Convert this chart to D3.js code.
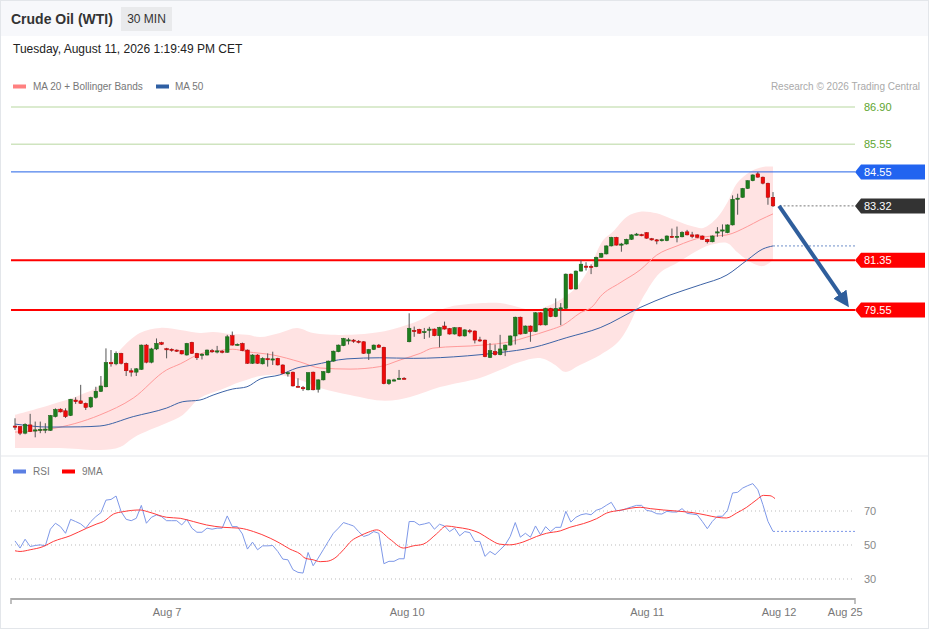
<!DOCTYPE html>
<html><head><meta charset="utf-8">
<script src="https://cdn.jsdelivr.net/npm/d3@7"></script>
<style>
html,body{margin:0;padding:0;background:#fff;}
svg{display:block;font-family:"Liberation Sans",Arial,Helvetica,sans-serif;}
</style></head>
<body>
<svg id="chart" width="929" height="629"></svg>
<script>
// ---------------- DATA ----------------
const title = "Crude Oil (WTI)";
const period = "30 MIN";
const timestamp = "Tuesday, August 11, 2026 1:19:49 PM CET";

const open = [75.35,75.33,75.09,75.39,75.18,75.21,75.23,75.19,75.69,75.96,75.90,75.73,76.29,76.26,76.17,76.04,76.38,76.60,76.77,77.65,
77.60,77.98,77.62,77.35,77.30,77.40,78.28,77.66,78.14,78.37,78.15,78.13,78.10,78.08,77.92,78.38,77.98,77.92,77.92,78.08,
78.06,78.06,78.02,78.62,78.30,78.34,78.10,77.62,77.92,77.60,77.79,77.76,77.80,77.56,77.27,77.30,76.79,76.74,76.66,77.30,
76.68,77.02,77.28,77.70,78.04,78.26,78.45,78.46,78.42,78.40,77.98,78.12,78.28,78.20,76.88,77.01,77.06,77.08,78.40,78.81,
78.85,78.76,78.84,78.86,78.62,78.97,78.88,78.68,78.91,78.61,78.80,78.79,78.47,78.46,77.83,78.05,77.93,78.10,78.28,78.61,
79.29,78.70,78.97,78.77,79.45,79.01,79.61,79.31,79.62,79.61,80.85,80.31,80.96,81.14,81.13,81.12,81.46,81.58,81.87,82.18,
81.92,81.94,82.11,82.29,82.28,82.35,82.13,82.09,82.09,82.06,82.22,82.21,82.20,82.38,82.27,82.27,82.23,82.11,82.02,82.37,
82.44,82.35,82.63,83.58,83.63,83.95,84.23,84.48,84.36,84.14,83.63];
const high = [75.63,75.35,75.45,75.79,75.51,75.51,75.45,75.75,75.99,75.99,75.99,76.33,76.39,76.84,76.20,76.41,76.77,77.16,78.16,78.10,
78.05,78.00,77.65,77.44,77.45,78.30,78.32,78.18,78.52,78.40,78.18,78.16,78.12,78.10,78.36,78.40,78.00,77.98,78.12,78.14,
78.25,78.10,78.65,78.77,78.34,78.37,78.12,77.95,77.95,77.84,77.98,78.04,77.82,77.58,77.32,77.32,77.08,76.80,77.30,77.32,
77.04,77.34,77.72,78.08,78.30,78.54,78.54,78.50,78.46,78.42,78.14,78.30,78.32,78.22,77.04,77.06,77.38,77.12,79.43,78.95,
78.87,78.90,78.94,78.88,78.94,79.13,78.90,78.93,78.93,78.85,78.86,78.81,78.58,78.48,78.35,78.30,78.65,78.30,78.63,79.31,
79.31,78.99,78.99,79.47,79.47,79.63,79.63,79.97,79.80,80.87,80.87,80.98,81.36,81.28,81.20,81.48,81.62,81.89,82.20,82.20,
81.98,82.13,82.29,82.34,82.31,82.37,82.16,82.12,82.14,82.25,82.50,82.57,82.40,82.45,82.38,82.29,82.25,82.13,82.25,82.55,
82.65,82.65,83.70,83.76,83.97,84.25,84.46,84.55,84.38,84.16,83.82];
const low = [75.21,75.02,75.05,75.13,74.94,75.09,75.09,75.17,75.66,75.84,75.64,75.71,76.15,76.15,75.93,76.00,76.34,76.58,76.75,77.50,
77.55,77.58,77.16,77.14,77.16,77.38,77.62,77.62,78.10,78.28,77.80,78.04,78.03,77.94,77.90,77.96,77.74,77.76,77.90,78.00,
77.98,77.98,78.00,78.26,78.26,78.06,77.60,77.60,77.60,77.58,77.50,77.56,77.54,77.24,77.14,76.78,76.75,76.62,76.64,76.64,
76.56,77.00,77.26,77.68,78.02,78.24,78.30,78.36,78.34,77.96,77.74,78.10,78.18,76.86,76.84,76.96,77.02,77.04,78.38,78.58,
78.69,78.50,78.55,78.60,78.20,78.84,78.66,78.66,78.59,78.59,78.70,78.34,78.40,77.84,77.81,77.90,77.91,77.88,78.26,78.30,
78.66,78.68,78.40,78.75,78.99,78.99,79.29,79.29,79.00,79.59,80.29,80.29,80.94,80.98,80.85,81.10,81.44,81.56,81.85,81.88,
81.66,81.92,82.09,82.25,82.22,82.13,82.06,81.93,82.03,82.04,82.16,82.00,82.18,82.25,82.15,82.16,82.09,81.96,82.00,82.20,
82.20,82.33,82.61,83.00,83.61,83.93,84.21,84.34,84.10,83.36,83.28];
const close = [75.33,75.09,75.41,75.15,75.21,75.23,75.24,75.73,75.95,75.86,75.69,76.32,76.23,76.17,76.02,76.38,76.61,76.80,77.65,77.60,
77.98,77.62,77.35,77.30,77.42,78.28,77.66,78.14,78.34,78.31,78.13,78.10,78.08,77.96,78.34,77.98,77.82,77.95,78.10,78.07,
78.07,78.04,78.58,78.28,78.31,78.08,77.62,77.92,77.62,77.80,77.77,77.78,77.56,77.26,77.28,76.80,76.77,76.72,77.28,76.66,
77.02,77.32,77.70,78.06,78.28,78.52,78.47,78.44,78.40,77.98,78.12,78.28,78.20,76.88,77.02,77.02,77.08,77.06,78.89,78.80,
78.71,78.77,78.86,78.62,78.92,78.86,78.68,78.91,78.61,78.83,78.79,78.46,78.46,77.86,78.08,77.93,78.14,78.28,78.61,79.29,
78.68,78.97,78.77,79.45,79.01,79.61,79.31,79.61,79.63,80.85,80.31,80.96,81.21,81.12,81.12,81.46,81.60,81.87,82.18,81.90,
81.94,82.11,82.27,82.30,82.27,82.15,82.12,82.08,82.10,82.23,82.21,82.22,82.36,82.27,82.21,82.18,82.11,82.02,82.23,82.38,
82.45,82.63,83.56,83.60,83.95,84.23,84.44,84.36,84.14,83.63,83.32];

// indicator lines: [candle index, value]
const ma20 = [[0,75.13],[6.9,75.24],[16.8,75.75],[23.4,76.36],[30,77.38],[32.7,77.60],[36.6,77.96],[39.2,78.04],[43.1,78.13],[45.9,78.04],
[51.1,77.92],[56.4,77.67],[60.4,77.45],[66.3,77.41],[72.2,77.50],[76.2,77.74],[80.2,77.98],[82.7,78.17],[92.6,78.28],[98,78.40],
[101.3,78.57],[105.9,78.83],[108.5,79.01],[111.8,79.44],[114.4,79.70],[115.8,80.03],[119.7,80.53],[123.7,81.00],[127,81.54],[131,81.87],
[136.2,82.19],[140.9,82.27],[144.9,82.57],[147.4,82.81],[150,83.03]];
const bbUpper = [[0,75.75],[6.9,76.11],[12.9,76.47],[16.8,76.83],[18.8,77.56],[20.8,78.10],[24.7,78.72],[28.7,78.90],[32.7,78.83],[36.6,78.72],
[39.2,78.75],[42.5,78.68],[45.9,78.65],[48.5,78.57],[52.4,78.72],[55.8,78.90],[59,78.72],[65.7,78.65],[72.2,78.75],[75.6,78.90],
[80.2,79.19],[82.7,79.44],[86.1,79.67],[92.6,79.80],[96,79.80],[99.3,79.67],[102.5,79.55],[105.9,79.73],[108.8,80.03],[111.2,80.39],
[113.8,81.12],[116.4,82.08],[118.3,82.38],[121.1,82.93],[123.7,83.11],[127,83.05],[129.6,82.87],[134.2,82.57],[136.2,82.52],[138.9,82.88],
[140.9,83.42],[142.9,84.15],[145.5,84.56],[148,84.73],[150,84.74]];
const bbLower = [[0,74.55],[8.9,74.55],[16.8,74.48],[20.8,74.59],[23.4,74.92],[26.7,75.21],[30,75.46],[33.2,75.75],[36.6,76.36],[40.6,76.65],
[44.5,76.94],[48.5,77.16],[52.4,77.20],[56.4,77.02],[60.4,76.73],[66.3,76.47],[73.2,76.26],[78.2,76.40],[84.1,76.76],[92,77.09],
[96,77.38],[99.9,77.67],[103.9,77.81],[106.9,77.56],[108.8,77.31],[111.8,77.56],[115.8,77.92],[119.7,78.46],[124.3,80.02],[127.6,80.89],
[131,81.25],[134.2,81.61],[137.5,81.90],[140.9,81.98],[142.9,81.65],[145.5,81.29],[148,81.14],[150,81.36]];
const ma50 = [[0,75.42],[6.9,75.31],[12.9,75.32],[16.8,75.35],[23.4,75.69],[30,76.00],[33.2,76.23],[36.6,76.29],[39.2,76.47],[43.1,76.69],
[45.9,76.77],[48.5,77.05],[52.4,77.20],[55.8,77.45],[59,77.56],[65.7,77.78],[72.2,77.82],[78.8,77.80],[89.5,77.89],[96,78.01],
[102.5,78.19],[109.2,78.55],[115.8,78.91],[123.7,79.64],[129.6,80.09],[135.6,80.46],[140.9,80.82],[144.9,81.36],[148,81.76],[150,81.87]];

const rsi = [52.4,48.2,53.4,49.1,49.7,50.1,49.5,59.3,62.8,60.8,56.9,65.1,63.8,62.4,59.9,63.8,66.7,69.0,76.4,76.8,
78.8,69.6,65.1,64.3,65.7,73.3,62.8,66.3,67.7,66.7,64.3,64.3,64.3,61.8,65.1,59.9,57.5,57.5,59.9,59.3,
59.9,59.9,67.1,60.8,60.8,56.5,47.6,51.7,47.2,49.5,49.5,49.7,46.2,41.7,41.3,35.5,33.9,33.5,45.6,37.8,
42.3,47.2,52.1,56.9,59.9,63.2,62.2,61.2,57.9,55.0,56.0,57.9,56.9,39.0,40.4,40.4,41.9,41.9,63.8,63.8,
61.8,62.4,63.2,59.3,62.2,61.2,57.9,59.9,55.4,57.9,57.3,52.1,52.1,43.3,46.2,44.3,47.2,50.1,55.0,63.2,
54.6,56.9,54.6,61.2,56.0,60.8,57.9,60.4,60.4,69.8,63.5,66.3,67.8,68.4,67.8,70.4,71.4,73.3,75.1,70.2,
70.4,71.4,72.4,73.3,73.3,70.4,69.8,68.4,68.2,69.8,69.4,69.4,71.4,68.6,68.2,67.8,63.9,59.6,63.9,66.9,
66.9,70.4,80.6,81.0,83.5,84.9,86.1,82.5,73.7,63.9,58.0];
const rsiMa9 = [[0,46.6],[1,46.2],[3,47.2],[5.6,49.1],[7.6,52.1],[10.9,55.4],[14.2,59.9],[16.2,62.4],[17.5,63.8],[19.5,68.2],
[21.4,69.6],[24.7,70.6],[26.7,69.2],[30,66.3],[32.7,65.7],[35.3,63.8],[37.9,61.8],[41.2,60.4],[44.5,59.9],[47.2,57.9],
[50.5,54.0],[52.4,51.1],[54.4,47.6],[56.4,44.8],[57.4,42.3],[59,41.3],[60.4,40.2],[61.7,40.4],[63.3,42.3],[65,47.2],
[66.6,52.5],[68.3,55.4],[69.9,57.5],[71.6,58.9],[74.2,53.4],[76.9,48.2],[78.8,49.5],[80.8,50.5],[83.4,56.5],[85.4,61.2],
[87.4,60.4],[89.7,59.3],[92,56.9],[93.9,53.4],[95.9,50.5],[97.9,50.1],[100.5,51.7],[103.2,55.0],[105.2,56.9],[107.9,58.3],
[109.8,60.4],[112.5,62.6],[115.1,65.5],[117.1,68.8],[119.7,70.4],[123.7,72.2],[125.7,71.4],[128.3,70.6],[131.6,69.8],[134.2,69.0],
[136.9,67.5],[138.9,66.3],[140.8,65.9],[142.8,68.8],[144.8,72.2],[146.8,76.7],[148.1,79.2],[149.4,79.0],[150.4,77.3]];

const levelValues = [86.90, 85.55, 84.55, 83.32, 81.35, 79.55];
const levelKinds  = ["target","target","resist","last","pivot","pivot"];
const rsiTicks = [70, 50, 30];
const dateLabels = ["Aug 7","Aug 10","Aug 11","Aug 12","Aug 25"];
const dateIndex  = [30.1, 77.6, 125.1, 151.2, 164.3];
const arrowFrom = [151.2, 83.32];
const arrowTo   = [165.1, 79.62];

// ---------------- LAYOUT ----------------
const W = 929, H = 629;
const plotLeft = 11, plotRight = 855;
const svg = d3.select("#chart");

const x = d3.scaleLinear().domain([0, 150]).range([15, 773]);
const y = d3.scaleLinear().domain([79.55, 86.90]).range([310, 107]);
const yr = d3.scaleLinear().domain([30, 70]).range([579, 511]);

// frame & header
svg.append("rect").attr("x",0.5).attr("y",0.5).attr("width",W-1).attr("height",H-1)
  .attr("fill","#fff").attr("stroke","#e3e6ea");
svg.append("rect").attr("x",1).attr("y",1).attr("width",W-2).attr("height",35).attr("fill","#f7f8fb");
svg.append("text").attr("x",11).attr("y",24).attr("font-size",14).attr("font-weight","bold")
  .attr("fill","#333").text(title);
svg.append("rect").attr("x",121).attr("y",7).attr("width",51).attr("height",24).attr("fill","#e9eaec");
svg.append("text").attr("x",146.5).attr("y",23).attr("text-anchor","middle").attr("font-size",12)
  .attr("fill","#333").text(period);
svg.append("text").attr("x",13).attr("y",53).attr("font-size",12).attr("fill","#222").text(timestamp);

// legend
const leg = svg.append("g").attr("font-size",10).attr("fill","#777");
leg.append("rect").attr("x",13).attr("y",84.5).attr("width",13).attr("height",4).attr("fill","#ff8080");
leg.append("text").attr("x",33).attr("y",90).text("MA 20 + Bollinger Bands");
leg.append("rect").attr("x",156).attr("y",84.5).attr("width",13).attr("height",4).attr("fill","#2f5fa3");
leg.append("text").attr("x",175).attr("y",90).text("MA 50");
svg.append("text").attr("x",920).attr("y",90).attr("text-anchor","end").attr("font-size",10)
  .attr("fill","#aaa").text("Research \u00a9 2026 Trading Central");

// panel separator
svg.append("rect").attr("x",1).attr("y",455).attr("width",W-2).attr("height",2).attr("fill","#f2f3f5");

// Bollinger band area
const lineC = d3.line().x(d=>x(d[0])).y(d=>y(d[1])).curve(d3.curveCatmullRom);
const upperPath = lineC(bbUpper);
const lowerPath = lineC(bbLower.slice().reverse());
svg.append("path").attr("d", upperPath + "L" + lowerPath.slice(1) + "Z")
  .attr("fill","#ffe3e3").attr("stroke","none");

// level lines
levelValues.forEach((v,k)=>{
  const kind = levelKinds[k];
  const yy = y(v);
  if (kind === "target") {
    svg.append("line").attr("x1",plotLeft).attr("x2",plotRight).attr("y1",yy).attr("y2",yy)
      .attr("stroke","#cfe4bf").attr("stroke-width",1.5);
  } else if (kind === "resist") {
    svg.append("line").attr("x1",plotLeft).attr("x2",plotRight).attr("y1",yy).attr("y2",yy)
      .attr("stroke","#2262e6").attr("stroke-width",1);
  } else if (kind === "pivot") {
    svg.append("line").attr("x1",plotLeft).attr("x2",plotRight).attr("y1",yy).attr("y2",yy)
      .attr("stroke","#ff0000").attr("stroke-width",2);
  } else if (kind === "last") {
    svg.append("line").attr("x1",x(151.3)).attr("x2",plotRight).attr("y1",yy).attr("y2",yy)
      .attr("stroke","#777").attr("stroke-width",1).attr("stroke-dasharray","2,2");
  }
});

// MA lines
const lineM = d3.line().x(d=>x(d[0])).y(d=>y(d[1])).curve(d3.curveMonotoneX);
svg.append("path").attr("d", lineM(ma20)).attr("fill","none").attr("stroke","#ff9a9a").attr("stroke-width",1);
svg.append("path").attr("d", lineM(ma50)).attr("fill","none").attr("stroke","#3d63a6").attr("stroke-width",1);
const ma50Last = ma50[ma50.length-1];
svg.append("line").attr("x1",x(ma50Last[0])).attr("x2",plotRight).attr("y1",y(ma50Last[1])).attr("y2",y(ma50Last[1]))
  .attr("stroke","#6d8ec9").attr("stroke-width",1).attr("stroke-dasharray","2,2");

// candles
const idx = d3.range(close.length);
const cg = svg.append("g");
cg.selectAll("line.wick").data(idx).join("line")
  .attr("x1",i=>x(i)).attr("x2",i=>x(i))
  .attr("y1",i=>y(high[i])).attr("y2",i=>y(low[i]))
  .attr("stroke","#555").attr("stroke-width",1);
cg.selectAll("rect.body").data(idx).join("rect")
  .attr("x",i=>x(i)-1.8).attr("width",3.6)
  .attr("y",i=>y(Math.max(open[i],close[i])))
  .attr("height",i=>Math.max(1.2, Math.abs(y(open[i])-y(close[i]))))
  .attr("fill",i=>close[i]>=open[i] ? "#1e7e1e" : "#ee0a0a")
  .attr("stroke",i=>close[i]>=open[i] ? "#145c14" : "#a80000")
  .attr("stroke-width",0.5);

// arrow
const defs = svg.append("defs");
defs.append("marker").attr("id","ah").attr("viewBox","0 0 10 10").attr("refX",6).attr("refY",5)
  .attr("markerUnits","userSpaceOnUse").attr("markerWidth",16).attr("markerHeight",16).attr("orient","auto")
  .append("path").attr("d","M0,0 L10,5 L0,10 Z").attr("fill","#2f5e9c");
svg.append("line").attr("x1",x(arrowFrom[0])).attr("y1",y(arrowFrom[1]))
  .attr("x2",x(arrowTo[0]) - 4).attr("y2",y(arrowTo[1]) - 6)
  .attr("stroke","#2f5e9c").attr("stroke-width",4).attr("marker-end","url(#ah)");

// level labels
levelValues.forEach((v,k)=>{
  const kind = levelKinds[k];
  const yy = y(v);
  const txt = v.toFixed(2);
  if (kind === "target") {
    svg.append("text").attr("x",864).attr("y",yy+4).attr("font-size",11).attr("fill","#5ea52f").text(txt);
  } else {
    const col = kind==="resist" ? "#2264f0" : kind==="last" ? "#333333" : "#ff0000";
    svg.append("path").attr("d",`M${plotRight},${yy} L${plotRight+6},${yy-7.5} L925,${yy-7.5} L925,${yy+7.5} L${plotRight+6},${yy+7.5} Z`)
      .attr("fill",col);
    svg.append("text").attr("x",864).attr("y",yy+4).attr("font-size",11).attr("fill","#fff").text(txt);
  }
});

// ---------------- RSI PANEL ----------------
const rl = svg.append("g").attr("font-size",10).attr("fill","#777");
rl.append("rect").attr("x",13).attr("y",469.5).attr("width",13).attr("height",4).attr("fill","#5b7fe3");
rl.append("text").attr("x",33).attr("y",475).text("RSI");
rl.append("rect").attr("x",62).attr("y",469.5).attr("width",13).attr("height",4).attr("fill","#ff0000");
rl.append("text").attr("x",82).attr("y",475).text("9MA");

rsiTicks.forEach(t=>{
  svg.append("line").attr("x1",plotLeft).attr("x2",plotRight).attr("y1",yr(t)).attr("y2",yr(t))
    .attr("stroke","#bbb").attr("stroke-width",1).attr("stroke-dasharray","1,3");
  svg.append("text").attr("x",864).attr("y",yr(t)+4).attr("font-size",11).attr("fill","#888").text(t);
});

const rsiLine = d3.line().x((d,i)=>x(i)).y(d=>yr(d));
svg.append("path").attr("d", rsiLine(rsi)).attr("fill","none").attr("stroke","#7e98e8").attr("stroke-width",1);
const lastR = rsi[rsi.length-1];
svg.append("line").attr("x1",x(rsi.length-1)).attr("x2",plotRight).attr("y1",yr(lastR)).attr("y2",yr(lastR))
  .attr("stroke","#7e98e8").attr("stroke-width",1).attr("stroke-dasharray","2,2");
const maLine = d3.line().x(d=>x(d[0])).y(d=>yr(d[1])).curve(d3.curveMonotoneX);
svg.append("path").attr("d", maLine(rsiMa9)).attr("fill","none").attr("stroke","#ff3b3b").attr("stroke-width",1);

// x axis
svg.append("line").attr("x1",plotLeft).attr("x2",plotRight).attr("y1",599).attr("y2",599)
  .attr("stroke","#aaa").attr("stroke-width",2);
[plotLeft, plotRight].forEach(px=>{
  svg.append("line").attr("x1",px).attr("x2",px).attr("y1",598).attr("y2",604)
    .attr("stroke","#aaa").attr("stroke-width",1.5);
});
dateLabels.forEach((lab,k)=>{
  svg.append("text").attr("x",x(dateIndex[k])).attr("y",616).attr("text-anchor","middle")
    .attr("font-size",11).attr("fill","#777").text(lab);
});
</script>
</body></html>
